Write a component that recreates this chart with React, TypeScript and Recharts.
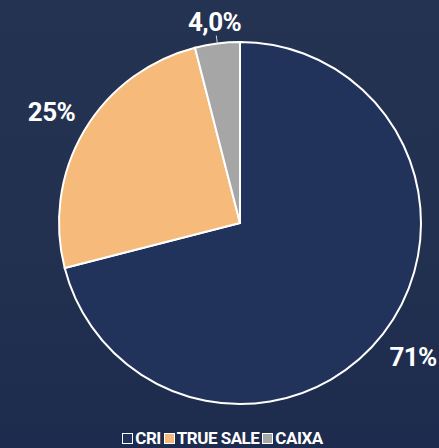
import React from "react";
import { PieChart, Pie, Cell, Legend } from "recharts";

const categories = ["CRI", "TRUE SALE", "CAIXA"];
const values = [71, 25, 4];
const valueLabels = ["71%", "25%", "4,0%"];
const colors = ["#22335b", "#f6bb7b", "#a6a6a6"];

const data = categories.map((name, i) => ({ name, value: values[i], label: valueLabels[i] }));

const RAD = Math.PI / 180;

const renderLabel = (props: any) => {
  const { cx, cy, midAngle, outerRadius, index } = props;
  const small = index === 2;
  const dist = outerRadius + (small ? 22 : 38);
  const x = cx + dist * Math.cos(-midAngle * RAD);
  const y = cy + dist * Math.sin(-midAngle * RAD);
  const lx1 = cx + outerRadius * Math.cos(-midAngle * RAD);
  const ly1 = cy + outerRadius * Math.sin(-midAngle * RAD);
  const lx2 = cx + (outerRadius + 8) * Math.cos(-midAngle * RAD);
  const ly2 = cy + (outerRadius + 8) * Math.sin(-midAngle * RAD);
  return (
    <g>
      {small && <line x1={lx1} y1={ly1} x2={lx2} y2={ly2} stroke="#cfd3dc" strokeWidth={1} />}
      <text
        x={x}
        y={y}
        fill="#ffffff"
        textAnchor="middle"
        dominantBaseline="central"
        fontFamily="Roboto, sans-serif"
        fontWeight={700}
        fontSize={26}
        letterSpacing={-0.6}
      >
        {data[index].label}
      </text>
    </g>
  );
};

const renderLegend = () => (
  <div
    style={{
      display: "flex",
      justifyContent: "center",
      alignItems: "center",
      gap: 3,
      fontFamily: "Roboto, sans-serif",
      fontWeight: 700,
      fontSize: 17,
      lineHeight: "18px",
      height: 18,
      color: "#ffffff",
      letterSpacing: -0.5,
      paddingLeft: 6,
    }}
  >
    {data.map((d, i) => (
      <span key={d.name} style={{ display: "flex", alignItems: "center", gap: 2 }}>
        <span
          style={{
            display: "inline-block",
            width: 9,
            height: 9,
            background: colors[i],
            border: "1.5px solid #ffffff",
          }}
        />
        <span>{d.name}</span>
      </span>
    ))}
  </div>
);

export default function App() {
  return (
    <div
      style={{
        position: "absolute",
        left: 0,
        top: 0,
        width: 439,
        height: 448,
        background: "linear-gradient(180deg, #253352 0%, #22314f 50%, #1d2c4e 100%)",
        overflow: "hidden",
      }}
    >
      <PieChart width={439} height={448}>
        <Pie
          data={data}
          dataKey="value"
          nameKey="name"
          cx={235}
          cy={218}
          outerRadius={181}
          startAngle={90}
          endAngle={-270}
          stroke="#ffffff"
          strokeWidth={2}
          label={renderLabel}
          labelLine={false}
          isAnimationActive={false}
        >
          {data.map((d, i) => (
            <Cell key={d.name} fill={colors[i]} />
          ))}
        </Pie>
        <Legend
          verticalAlign="bottom"
          content={renderLegend}
          wrapperStyle={{ bottom: 1, left: 0, width: 439 }}
        />
      </PieChart>
    </div>
  );
}
